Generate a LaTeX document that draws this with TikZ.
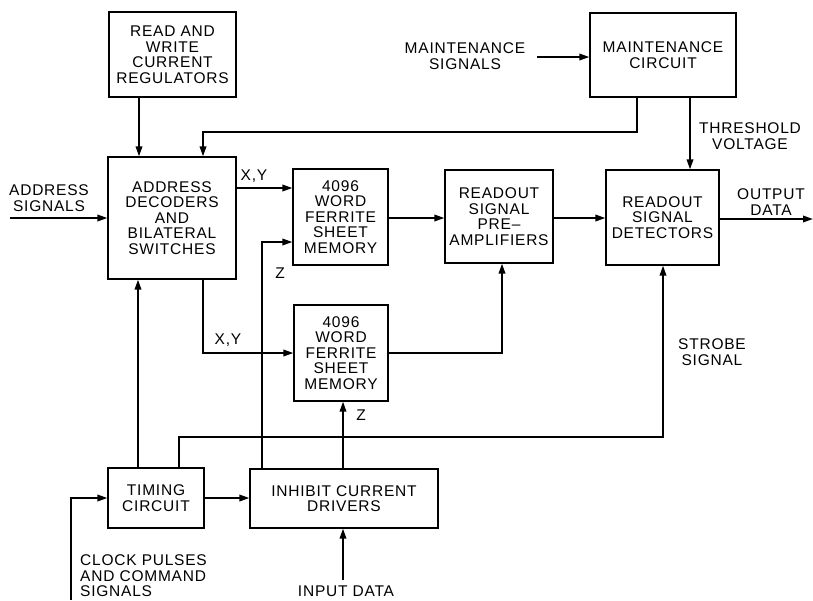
\documentclass[tikz,border=0pt]{standalone}
\usepackage{fontspec}
\setmainfont{Liberation Sans}[LetterSpace=5]
\usetikzlibrary{arrows.meta,calc}
\newcommand\dgfont{\fontsize{15.5}{15.5}\selectfont}
\begin{document}
\begin{tikzpicture}[x=1pt,y=-1pt,
  box/.style={draw,line width=1.2pt,align=center,inner sep=0pt,font=\dgfont},
  lab/.style={align=center,inner sep=0pt,font=\dgfont},
  wire/.style={line width=1.8pt},
  arr/.style={wire,-{Triangle[length=10pt,width=6.5pt]}}]
\useasboundingbox (0,0) rectangle (813,600);
% boxes
\node[box,minimum width=127pt,minimum height=85pt] (reg) at (172.5,54.5) {READ AND\\WRITE\\CURRENT\\REGULATORS};
\node[box,minimum width=128pt,minimum height=122pt] (addr) at (172,218) {ADDRESS\\DECODERS\\AND\\BILATERAL\\SWITCHES};
\node[box,minimum width=95pt,minimum height=96pt] (mem1) at (340.5,217) {4096\\WORD\\FERRITE\\SHEET\\MEMORY};
\node[box,minimum width=94pt,minimum height=96pt] (mem2) at (341,353) {4096\\WORD\\FERRITE\\SHEET\\MEMORY};
\node[box,minimum width=108pt,minimum height=93pt] (pre) at (499,216.5) {READOUT\\SIGNAL\\PRE--\\AMPLIFIERS};
\node[box,minimum width=113pt,minimum height=95pt] (det) at (662.5,217.5) {READOUT\\SIGNAL\\DETECTORS};
\node[box,minimum width=146pt,minimum height=84pt] (maint) at (663,55) {MAINTENANCE\\CIRCUIT};
\node[box,minimum width=96pt,minimum height=60pt] (timing) at (156,498) {TIMING\\CIRCUIT};
\node[box,minimum width=188pt,minimum height=59pt] (inh) at (344,498.5) {INHIBIT CURRENT\\DRIVERS};
% labels
\node[lab] (laddr) at (49,198) {ADDRESS\\SIGNALS};
\node[lab] (lxy1) at (254,176) {X,Y};
\node[lab] (lz1) at (280,273) {Z};
\node[lab] (lxy2) at (228,340) {X,Y};
\node[lab] (lz2) at (361,415) {Z};
\node[lab] (lmsig) at (465,56) {MAINTENANCE\\SIGNALS};
\node[lab] (lthr) at (750,136) {THRESHOLD\\VOLTAGE};
\node[lab] (lout) at (771,202) {OUTPUT\\DATA};
\node[lab] (lstr) at (712,352) {STROBE\\SIGNAL};
\node[lab,align=left,anchor=west] (lclk) at (80,576) {CLOCK PULSES\\AND COMMAND\\SIGNALS};
\node[lab] (lin) at (346,591) {INPUT DATA};
% free ends
\coordinate (ain) at (10,218);
\coordinate (msin) at (537,57);
\coordinate (clkin) at (71,600);
\coordinate (din) at (343,580);
\coordinate (dout) at (813,219);
% connectors
\draw[arr] (reg.south -| 139,0) -- (addr.north -| 139,0);
\draw[arr] (maint.south -| 637,0) -- (637,132) -- (203,132) -- (addr.north -| 203,0);
\draw[arr] (ain) -- (addr.west |- ain);
\draw[arr] (addr.east |- 0,188) -- (mem1.west |- 0,188);
\draw[arr] (addr.south -| 203,0) |- (mem2.west |- 0,353);
\draw[arr] (timing.north -| 138,0) -- (addr.south -| 138,0);
\draw[arr] (timing.north -| 179,0) |- (663,437) -- (det.south -| 663,0);
\draw[arr] (clkin) |- (timing.west);
\draw[arr] (timing.east) -- (inh.west |- timing.east);
\draw[arr] (inh.north -| 262,0) |- (mem1.west |- 0,242);
\draw[arr] (inh.north -| 343,0) -- (mem2.south -| 343,0);
\draw[arr] (din) -- (inh.south -| din);
\draw[arr] (mem1.east |- 0,218) -- (pre.west |- 0,218);
\draw[arr] (mem2.east) -| (pre.south -| 502,0);
\draw[arr] (pre.east |- 0,218) -- (det.west |- 0,218);
\draw[arr] (det.east |- dout) -- (dout);
\draw[arr] (msin) -- (maint.west |- msin);
\draw[arr] (maint.south -| 690,0) -- (det.north -| 690,0);
\end{tikzpicture}
\end{document}
